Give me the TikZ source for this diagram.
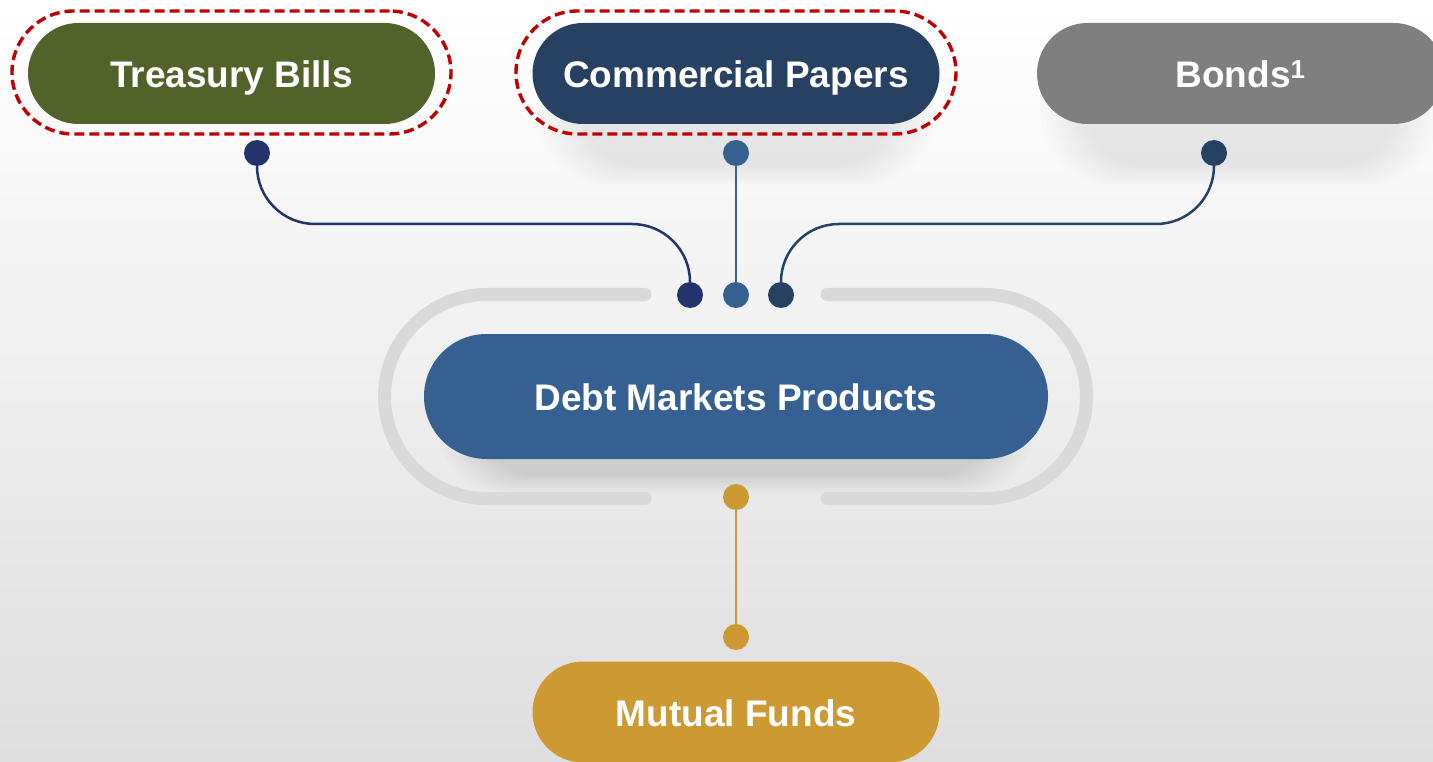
\documentclass[tikz,border=0pt]{standalone}
\usepackage{fontspec}
\setmainfont{Liberation Sans}
\usepackage{tikz}
\usetikzlibrary{calc}

\definecolor{tbGreen}{HTML}{52632A}
\definecolor{cpNavy}{HTML}{264162}
\definecolor{dmBlue}{HTML}{366092}
\definecolor{bdGray}{HTML}{7F7F7F}
\definecolor{mfGold}{HTML}{CC9933}
\definecolor{tbLink}{HTML}{23336B}
\definecolor{cpLink}{HTML}{36618F}
\definecolor{bdLink}{HTML}{264162}
\definecolor{ringGray}{HTML}{D9D9D9}
\definecolor{flagRed}{HTML}{C00000}

\tikzset{
  pill/.style={rounded corners=50.5pt, minimum width=407pt, minimum height=101pt,
    inner sep=0pt, text height=28.8pt, text depth=0pt, text=white,
    font=\fontsize{37}{40}\selectfont\bfseries},
  hubpill/.style={pill, rounded corners=62.5pt, minimum width=624pt, minimum height=125pt},
  pin/.style={circle, inner sep=0pt, minimum size=26pt},
  flagring/.style={draw=flagRed, line width=3.4pt, dash pattern=on 10pt off 5pt,
    rounded corners=61.5pt, minimum height=123pt, inner sep=0pt},
  link/.style={line width=2.5pt, rounded corners=58pt},
  ring/.style={draw=ringGray, line width=13pt, line cap=round, rounded corners=102pt}
}
% soft shadow: centre x, centre y, half width, half height, opacity per layer
\newcommand{\softshadow}[5]{%
  \foreach \k in {0,...,9}{
    \fill[black, opacity=#5, rounded corners={#4-2*\k}]
      ({#1-#3+5*\k},{#2-#4+2*\k}) rectangle ({#1+#3-5*\k},{#2+#4-2*\k});
  }}

\begin{document}
\begin{tikzpicture}[x=1pt, y=-1pt]
  \useasboundingbox (0,0) rectangle (1433,762);
  \clip (0,0) rectangle (1433,762);
  \shade[top color=white, middle color=gray!7, bottom color=gray!26]
    (0,0) rectangle (1433,762);

  % shadows under the pills
  \softshadow{736}{110}{200}{75}{0.006}
  \softshadow{1240}{110}{200}{75}{0.006}
  \softshadow{736}{422}{300}{72}{0.012}

  % product pills
  \node[pill, fill=tbGreen] (tb) at (231.5,73.5) {Treasury Bills};
  \node[pill, fill=cpNavy]  (cp) at (736,73.5)   {Commercial Papers};
  \node[pill, fill=bdGray]  (bd) at (1240.5,73.5) {Bonds\textsuperscript{1}};
  \node[hubpill, fill=dmBlue] (dm) at (736,396.5) {Debt Markets Products};
  \node[pill, fill=mfGold]  (mf) at (736,712)    {Mutual Funds};

  % dashed highlight
  \node[flagring, minimum width=439pt] (tbFlag) at (231.5,72.5) {};
  \node[flagring, minimum width=440pt] (cpFlag) at (736,72.5) {};

  % open ring round the hub
  \draw[ring] (645,294.5) -- (384.5,294.5) -- (384.5,498.5) -- (645,498.5);
  \draw[ring] (827,294.5) -- (1086.5,294.5) -- (1086.5,498.5) -- (827,498.5);

  % pins
  \node[pin, fill=tbLink] (tbTop) at (257,153) {};
  \node[pin, fill=cpLink] (cpTop) at (736,153) {};
  \node[pin, fill=bdLink] (bdTop) at (1214,153) {};
  \node[pin, fill=tbLink] (tbLow) at (690,295) {};
  \node[pin, fill=cpLink] (cpLow) at (736,295) {};
  \node[pin, fill=bdLink] (bdLow) at (781,295) {};
  \node[pin, fill=mfGold] (mfTop) at (736,497) {};
  \node[pin, fill=mfGold] (mfLow) at (736,637) {};
  \coordinate (tbBend) at (690,224);
  \coordinate (bdBend) at (781,224);

  % links
  \draw[link, tbLink] (tbTop) |- (tbBend) -- (tbLow);
  \draw[link, bdLink] (bdTop) |- (bdBend) -- (bdLow);
  \draw[link, cpLink] (cpTop) -- (cpLow);
  \draw[link, mfGold] (mfTop) -- (mfLow);
\end{tikzpicture}
\end{document}
